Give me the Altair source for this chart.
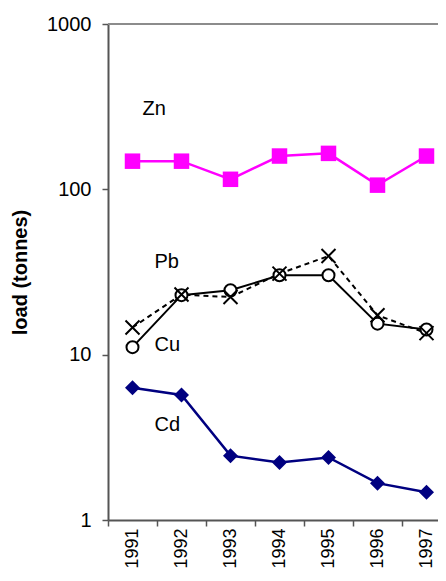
import altair as alt
import pandas as pd

years = ["1991", "1992", "1993", "1994", "1995", "1996", "1997"]
zn = [148, 148, 115, 159, 165, 106, 159]
pb = [14.6, 23.1, 22.3, 30.9, 39.5, 17.3, 13.5]
cu = [11.1, 22.9, 24.5, 30.2, 30.2, 15.4, 14.2]
cd = [6.3, 5.7, 2.45, 2.23, 2.39, 1.67, 1.47]

label_names = ["Zn", "Pb", "Cu", "Cd"]
label_years = ["1991", "1991", "1991", "1991"]
label_values = [304, 36.3, 11.5, 3.75]

y_ticks = [1, 10, 100, 1000]

df = pd.DataFrame({
    "year": years * 4,
    "metal": ["Zn"] * 7 + ["Pb"] * 7 + ["Cu"] * 7 + ["Cd"] * 7,
    "load": zn + pb + cu + cd,
})
labels = pd.DataFrame({"name": label_names, "year": label_years, "load": label_values})

FONT = "Liberation Sans"

x_enc = alt.X(
    "year:O",
    scale=alt.Scale(type="band", domain=years, range=[0, 343], paddingInner=0, paddingOuter=0),
    axis=alt.Axis(
        title=None, tickBand="extent", labelAngle=270, labelAlign="right",
        labelBaseline="middle", labelPadding=2, tickSize=6,
        labelFont=FONT, labelFontSize=18, labelColor="black",
        domainColor="#555555", domainWidth=2, tickColor="#555555", tickWidth=1.5,
        grid=False,
    ),
)
y_enc = alt.Y(
    "load:Q",
    scale=alt.Scale(type="log", domain=[1, 1000]),
    axis=alt.Axis(
        title="load (tonnes)", titleFont=FONT, titleFontSize=20, titleFontWeight="bold",
        titleColor="black", titlePadding=16, values=y_ticks, format="d",
        labelFont=FONT, labelFontSize=20, labelColor="black", labelPadding=11,
        tickSize=6, domainColor="#555555", domainWidth=2, tickColor="#555555",
        tickWidth=1.5, grid=False,
    ),
)

base = alt.Chart(df).encode(x=x_enc, y=y_enc)

def series(name):
    return base.transform_filter(alt.datum.metal == name)

top_rule = alt.Chart(df).mark_rule(color="#8c8c8c", strokeWidth=2).encode(
    y=alt.datum(1000), x=alt.value(0), x2=alt.value(343)
)

zn_line = series("Zn").mark_line(color="#FF00FF", strokeWidth=2.5)
zn_pts = series("Zn").mark_point(shape="square", filled=True, color="#FF00FF", size=240, opacity=1)

cd_line = series("Cd").mark_line(color="#000080", strokeWidth=2.5)
cd_pts = series("Cd").mark_point(shape="diamond", filled=True, color="#000080", size=225, opacity=1)

pb_line = series("Pb").mark_line(color="black", strokeWidth=2, strokeDash=[5, 4])
cu_line = series("Cu").mark_line(color="black", strokeWidth=2)
cu_pts = series("Cu").mark_point(shape="circle", filled=False, fill="white", stroke="black",
                                 strokeWidth=2, size=144, opacity=1, fillOpacity=1)
pb_pts = series("Pb").mark_point(shape="M-1,-1L1,1M-1,1L1,-1", filled=False, stroke="black",
                                 strokeWidth=2, size=196, opacity=1)

lab_base = alt.Chart(labels).encode(
    x=alt.X("year:O"), y=alt.Y("load:Q"), text="name:N"
)
zn_lab = lab_base.transform_filter(alt.datum.name == "Zn").mark_text(
    align="left", baseline="middle", dx=10, font=FONT, fontSize=20, color="black")
other_lab = lab_base.transform_filter(alt.datum.name != "Zn").mark_text(
    align="left", baseline="middle", dx=22, font=FONT, fontSize=20, color="black")

chart = alt.layer(
    top_rule, zn_line, cd_line, pb_line, cu_line,
    zn_pts, cd_pts, cu_pts, pb_pts, zn_lab, other_lab,
).properties(
    width=330, height=496,
    autosize=alt.AutoSizeParams(type="none"),
    padding={"left": 100, "top": 16, "right": 0, "bottom": 49},
).configure_view(strokeWidth=0)

chart.save("out.html", embed_options={"renderer": "svg", "actions": False})
